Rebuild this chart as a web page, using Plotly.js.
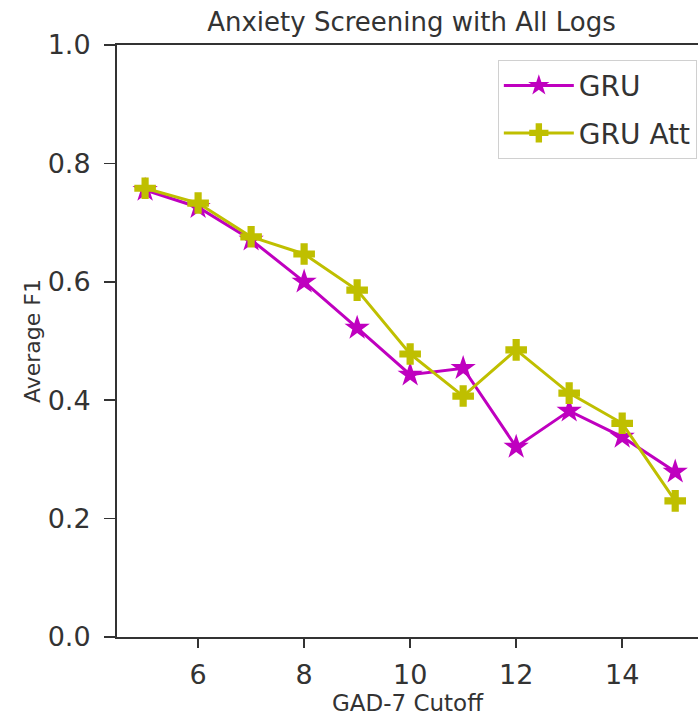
<!DOCTYPE html>
<html>
<head>
<meta charset="utf-8">
<script src="https://cdn.plot.ly/plotly-3.0.1.min.js"></script>
<style>html,body{margin:0;padding:0;background:#fff;overflow:hidden;}#chart{width:698px;height:718px;}</style>
</head>
<body>
<div id="chart"></div>
<script>
const cutoffs = [5, 6, 7, 8, 9, 10, 11, 12, 13, 14, 15];
const gruF1 = [0.755, 0.726, 0.671, 0.600, 0.522, 0.443, 0.454, 0.321, 0.382, 0.338, 0.279];
const gruAttF1 = [0.758, 0.733, 0.676, 0.647, 0.586, 0.478, 0.407, 0.485, 0.412, 0.361, 0.230];
const seriesNames = ["GRU", "GRU Att"];
const xTicks = [6, 8, 10, 12, 14];
const yTicks = [0.0, 0.2, 0.4, 0.6, 0.8, 1.0];

const font = "DejaVu Sans, sans-serif";
const textColor = "#333333";

const traces = [
  {
    x: cutoffs, y: gruF1, name: seriesNames[0], mode: "lines+markers", legendgroup: "a",
    line: {color: "#bf00bf", width: 3},
    marker: {symbol: "star", size: 19, color: "#bf00bf", line: {width: 0}}
  },
  {
    x: cutoffs, y: gruAttF1, name: seriesNames[1], mode: "lines+markers", legendgroup: "b",
    line: {color: "#bfbf00", width: 3},
    marker: {symbol: "cross", size: 18, color: "#bfbf00", line: {width: 0}}
  }
];

const layout = {
  width: 698, height: 718,
  margin: {l: 117, r: 0, t: 45, b: 81},
  paper_bgcolor: "#ffffff", plot_bgcolor: "#ffffff",
  font: {family: font, color: textColor},
  title: {
    text: "Anxiety Screening with All Logs",
    font: {family: font, size: 26, color: textColor},
    xref: "container", x: 0.5895, xanchor: "center",
    yref: "container", y: 0.969, yanchor: "middle"
  },
  xaxis: {
    range: [4.47, 15.43],
    tickvals: xTicks, ticktext: xTicks.map(String),
    showgrid: false, zeroline: false,
    showline: true, linecolor: "#333333", linewidth: 2, mirror: true,
    ticks: "outside", ticklen: 9, tickwidth: 1.5, tickcolor: "#333333",
    tickfont: {family: font, size: 27, color: textColor},
    ticklabelstandoff: 4,
    title: {text: "GAD-7 Cutoff", font: {family: font, size: 23, color: textColor}, standoff: 0},
    automargin: false
  },
  yaxis: {
    range: [0, 1],
    tickvals: yTicks, ticktext: yTicks.map(v => v.toFixed(1)),
    showgrid: false, zeroline: false,
    showline: true, linecolor: "#333333", linewidth: 2, mirror: false,
    ticks: "outside", ticklen: 11, tickwidth: 1.5, tickcolor: "#333333",
    tickfont: {family: font, size: 27, color: textColor},
    ticklabelstandoff: 8,
    title: {text: "Average F1", font: {family: font, size: 22, color: textColor}, standoff: 1},
    automargin: false
  },
  legend: {
    x: 0.998, xanchor: "right", xref: "paper",
    y: 0.975, yanchor: "top", yref: "paper",
    bgcolor: "#ffffff", bordercolor: "#d0d0d0", borderwidth: 1,
    font: {family: font, size: 28, color: textColor},
    itemwidth: 70, tracegroupgap: 8
  },
  showlegend: true
};

Plotly.newPlot("chart", traces, layout, {displayModeBar: false, staticPlot: true});
</script>
</body>
</html>
